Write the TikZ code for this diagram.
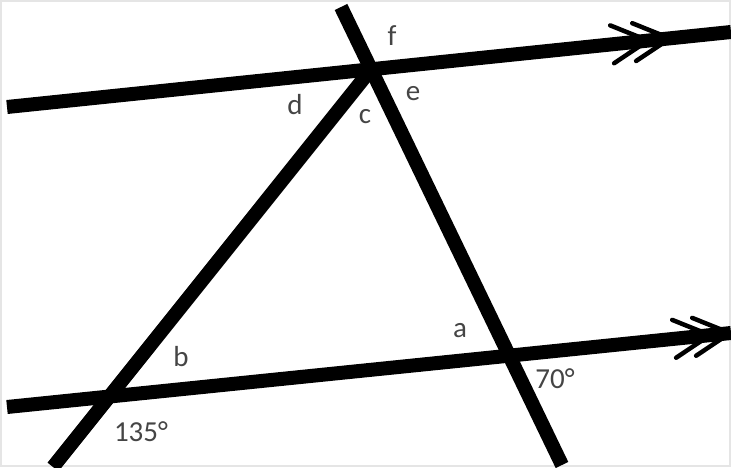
\documentclass[tikz,border=0pt]{standalone}
\usepackage{fontspec}
\setmainfont{Carlito}
\usetikzlibrary{calc}
\definecolor{lbl}{HTML}{454545}
\tikzset{
  thick line/.style={line width=14pt, line cap=butt},
  chevron/.style={line width=4.5pt, line cap=round, line join=miter},
  lab/.style={text=lbl, font=\fontsize{29}{34}\selectfont, inner sep=0pt}
}
\begin{document}
\begin{tikzpicture}[x=1pt,y=1pt]
\useasboundingbox (0,0) rectangle (731,467);
\draw[gray!20, line width=2pt] (1,1) rectangle (730,466);
% end points
\coordinate (T1) at (7,360);
\coordinate (T2) at (731,435);
\coordinate (B1) at (7,60);
\coordinate (B2) at (731,134);
\coordinate (R1) at (341,460);
\coordinate (R2) at (562,2);
\coordinate (P) at (371.1,397.7);
\coordinate (L2) at (53,0);
% lines
\draw[thick line] (T1) -- (T2);
\draw[thick line] (B1) -- (B2);
\draw[thick line] (R1) -- (R2);
\draw[thick line] (P) -- (L2);
% chevrons
\coordinate (c1) at (648,426.4);
\coordinate (c2) at (670,428.6);
\coordinate (c3) at (710,131.9);
\coordinate (c4) at (730,133.9);
\foreach \c in {c1,c2,c3,c4}{
  \draw[chevron, shift={(\c)}, rotate=5.9] (-36,19) -- (0,0) -- (-36,-19);
}
% labels
\node[lab] (f) at (392,431) {f};
\node[lab] (d) at (295,362) {d};
\node[lab] (c) at (365,350) {c};
\node[lab] (e) at (413,373) {e};
\node[lab] (b) at (181,110) {b};
\node[lab] (a) at (460,136) {a};
\node[lab] (s) at (555,88) {70°};
\node[lab] (o) at (141,35) {135°};
\end{tikzpicture}
\end{document}
